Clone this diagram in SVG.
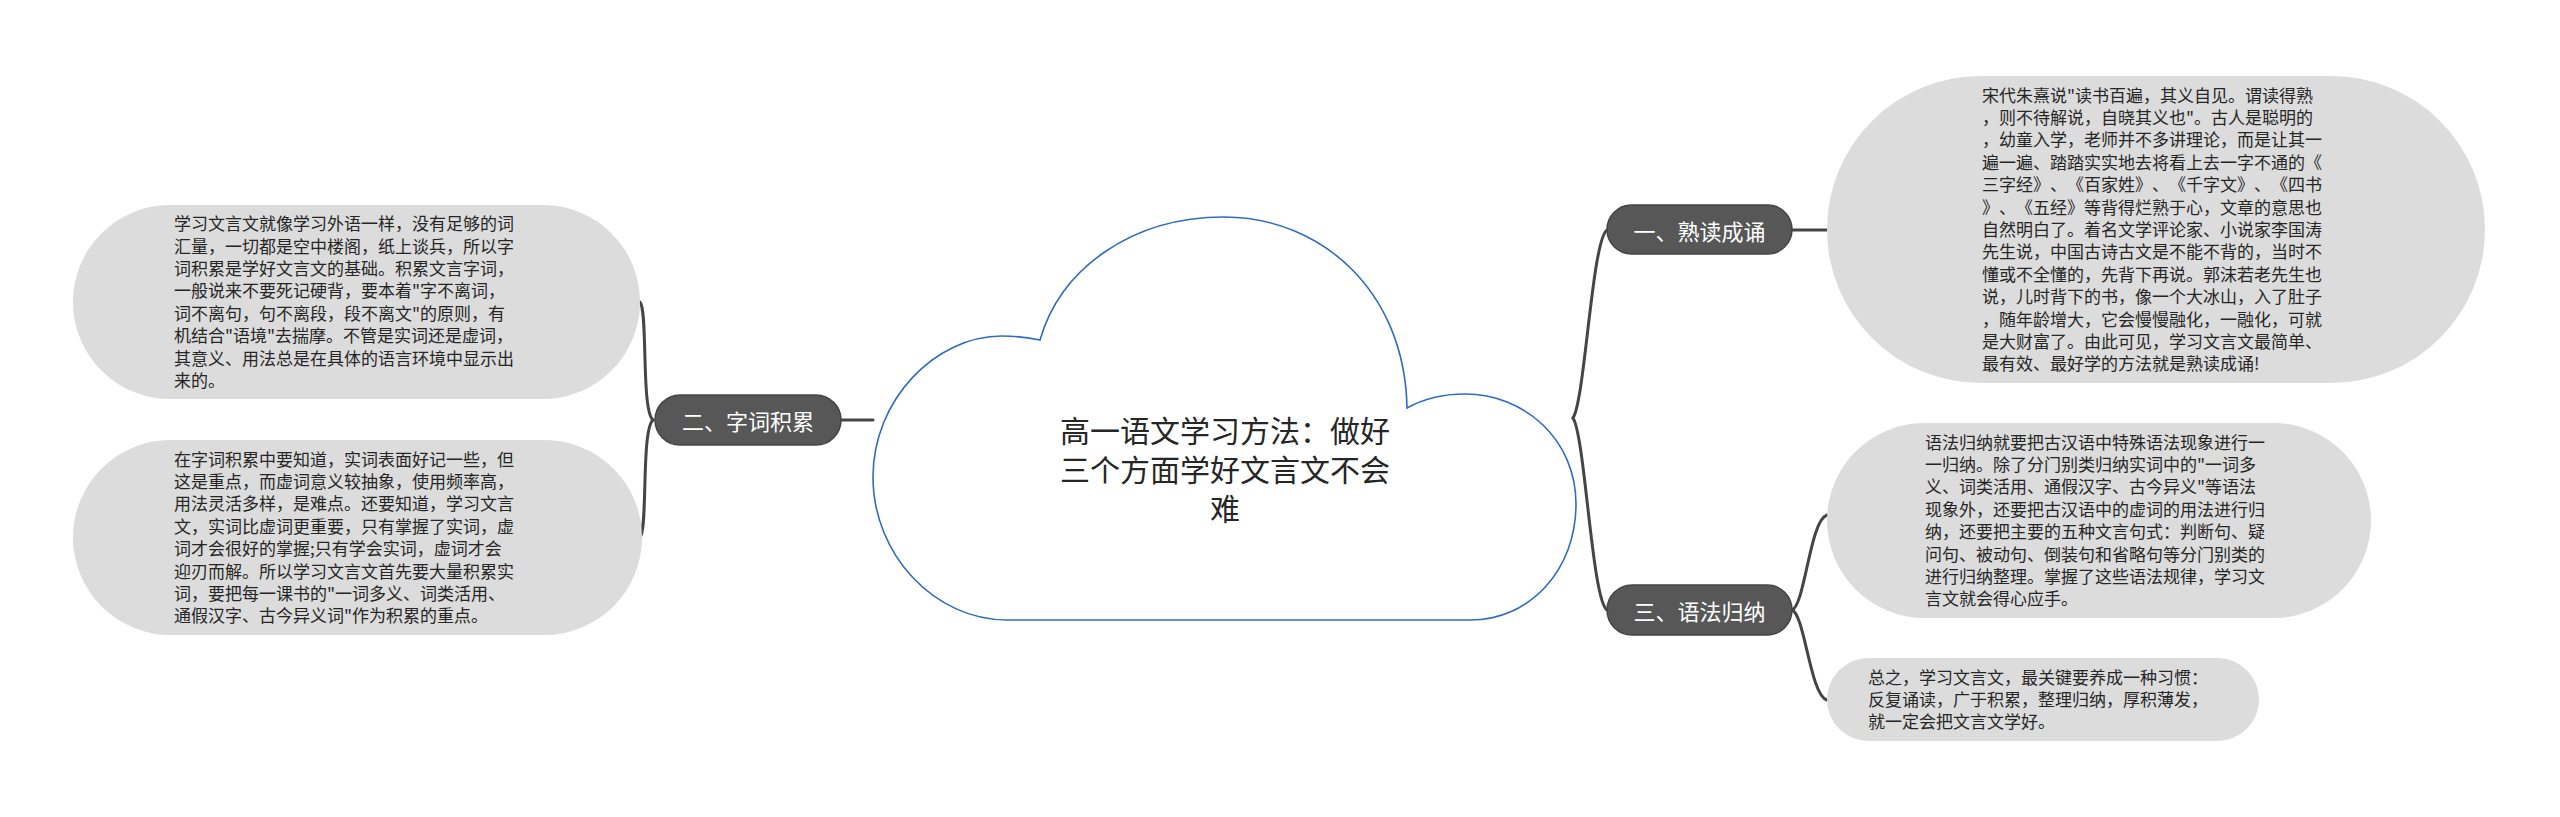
<svg xmlns="http://www.w3.org/2000/svg" width="2560" height="817" viewBox="0 0 2560 817">
<style>
.bub{fill:#dcdcdc;}
.bt{font-family:"Noto Sans CJK SC","Noto Sans",sans-serif;font-size:17px;fill:#262626;text-spacing-trim:space-all;}
.br{fill:#575757;stroke:#444;stroke-width:1.5;}
.brt{font-family:"Noto Sans CJK SC","Noto Sans",sans-serif;font-size:22px;fill:#ffffff;text-anchor:middle;dominant-baseline:central;text-spacing-trim:space-all;}
.cn{fill:none;stroke:#454545;stroke-width:3;stroke-linecap:round;}
.title{font-family:"Noto Sans CJK SC","Noto Sans",sans-serif;font-size:30px;fill:#262626;text-anchor:middle;dominant-baseline:central;text-spacing-trim:space-all;}
</style>
<rect width="2560" height="817" fill="#ffffff"/>
<g id="connectors">
<path class="cn" d="M1573,418 C1585,400 1592,240 1607,230"/>
<path class="cn" d="M1573,418 C1585,436 1592,600 1607,610"/>
<path class="cn" d="M1792,230 L1827,230"/>
<path class="cn" d="M1792,610 C1805,605 1810,520 1827,515"/>
<path class="cn" d="M1792,610 C1805,615 1810,695 1827,700"/>
<path class="cn" d="M841,420 L873,420"/>
<path class="cn" d="M653,420 C641,410 648,310 640,302"/>
<path class="cn" d="M653,420 C641,430 648,530 640,537"/>
</g>
<g id="center">
<path d="M1007,620 C935,620 873,555 873,477 C873,400 935,336 1002,336 C1015,336 1030,338 1040,340 C1060,270 1130,217 1224,217 C1320,217 1405,290 1407,408 C1425,398 1445,394 1465,394 C1525,394 1576,440 1576,504 C1576,570 1530,620 1470,620 Z" fill="#ffffff" stroke="#2f6cc0" stroke-width="1.6"/>
<text class="title" x="1225" y="429">高一语文学习方法：做好</text>
<text class="title" x="1225" y="468">三个方面学好文言文不会</text>
<text class="title" x="1225" y="507">难</text>
</g>
<g id="b1">
<rect class="br" x="1607" y="205" width="185" height="49" rx="24.5"/>
<text class="brt" x="1699.5" y="230">一、熟读成诵</text>
</g>
<g id="b2">
<rect class="br" x="655" y="395" width="186" height="50" rx="25"/>
<text class="brt" x="748" y="420">二、字词积累</text>
</g>
<g id="b3">
<rect class="br" x="1607" y="585" width="185" height="50" rx="25"/>
<text class="brt" x="1699.5" y="610">三、语法归纳</text>
</g>
<g id="n1">
<rect class="bub" x="1827" y="76" width="658" height="307" rx="153.5"/>
<text class="bt" x="1982" y="101.6">宋代朱熹说"读书百遍，其义自见。谓读得熟</text>
<text class="bt" x="1982" y="124">，则不待解说，自晓其义也"。古人是聪明的</text>
<text class="bt" x="1982" y="146.4">，幼童入学，老师并不多讲理论，而是让其一</text>
<text class="bt" x="1982" y="168.8">遍一遍、踏踏实实地去将看上去一字不通的《</text>
<text class="bt" x="1982" y="191.2">三字经》、《百家姓》、《千字文》、《四书</text>
<text class="bt" x="1982" y="213.6">》、《五经》等背得烂熟于心，文章的意思也</text>
<text class="bt" x="1982" y="236">自然明白了。着名文学评论家、小说家李国涛</text>
<text class="bt" x="1982" y="258.4">先生说，中国古诗古文是不能不背的，当时不</text>
<text class="bt" x="1982" y="280.8">懂或不全懂的，先背下再说。郭沫若老先生也</text>
<text class="bt" x="1982" y="303.2">说，儿时背下的书，像一个大冰山，入了肚子</text>
<text class="bt" x="1982" y="325.6">，随年龄增大，它会慢慢融化，一融化，可就</text>
<text class="bt" x="1982" y="348">是大财富了。由此可见，学习文言文最简单、</text>
<text class="bt" x="1982" y="370.4">最有效、最好学的方法就是熟读成诵!</text>
</g>
<g id="n2">
<rect class="bub" x="73" y="205" width="567" height="194" rx="97"/>
<text class="bt" x="174" y="230.1">学习文言文就像学习外语一样，没有足够的词</text>
<text class="bt" x="174" y="252.5">汇量，一切都是空中楼阁，纸上谈兵，所以字</text>
<text class="bt" x="174" y="274.9">词积累是学好文言文的基础。积累文言字词，</text>
<text class="bt" x="174" y="297.3">一般说来不要死记硬背，要本着"字不离词，</text>
<text class="bt" x="174" y="319.7">词不离句，句不离段，段不离文"的原则，有</text>
<text class="bt" x="174" y="342.1">机结合"语境"去揣摩。不管是实词还是虚词，</text>
<text class="bt" x="174" y="364.5">其意义、用法总是在具体的语言环境中显示出</text>
<text class="bt" x="174" y="386.9">来的。</text>
</g>
<g id="n3">
<rect class="bub" x="73" y="440" width="569" height="195" rx="97.5"/>
<text class="bt" x="174" y="465.6">在字词积累中要知道，实词表面好记一些，但</text>
<text class="bt" x="174" y="488">这是重点，而虚词意义较抽象，使用频率高，</text>
<text class="bt" x="174" y="510.4">用法灵活多样，是难点。还要知道，学习文言</text>
<text class="bt" x="174" y="532.8">文，实词比虚词更重要，只有掌握了实词，虚</text>
<text class="bt" x="174" y="555.2">词才会很好的掌握;只有学会实词，虚词才会</text>
<text class="bt" x="174" y="577.6">迎刃而解。所以学习文言文首先要大量积累实</text>
<text class="bt" x="174" y="600">词，要把每一课书的"一词多义、词类活用、</text>
<text class="bt" x="174" y="622.4">通假汉字、古今异义词"作为积累的重点。</text>
</g>
<g id="n4">
<rect class="bub" x="1827" y="423" width="544" height="195" rx="97.5"/>
<text class="bt" x="1925" y="448.6">语法归纳就要把古汉语中特殊语法现象进行一</text>
<text class="bt" x="1925" y="471">一归纳。除了分门别类归纳实词中的"一词多</text>
<text class="bt" x="1925" y="493.4">义、词类活用、通假汉字、古今异义"等语法</text>
<text class="bt" x="1925" y="515.8">现象外，还要把古汉语中的虚词的用法进行归</text>
<text class="bt" x="1925" y="538.2">纳，还要把主要的五种文言句式：判断句、疑</text>
<text class="bt" x="1925" y="560.6">问句、被动句、倒装句和省略句等分门别类的</text>
<text class="bt" x="1925" y="583">进行归纳整理。掌握了这些语法规律，学习文</text>
<text class="bt" x="1925" y="605.4">言文就会得心应手。</text>
</g>
<g id="n5">
<rect class="bub" x="1827" y="658" width="432" height="83" rx="41.5"/>
<text class="bt" x="1868" y="683.6">总之，学习文言文，最关键要养成一种习惯：</text>
<text class="bt" x="1868" y="706">反复诵读，广于积累，整理归纳，厚积薄发，</text>
<text class="bt" x="1868" y="728.4">就一定会把文言文学好。</text>
</g>
</svg>
